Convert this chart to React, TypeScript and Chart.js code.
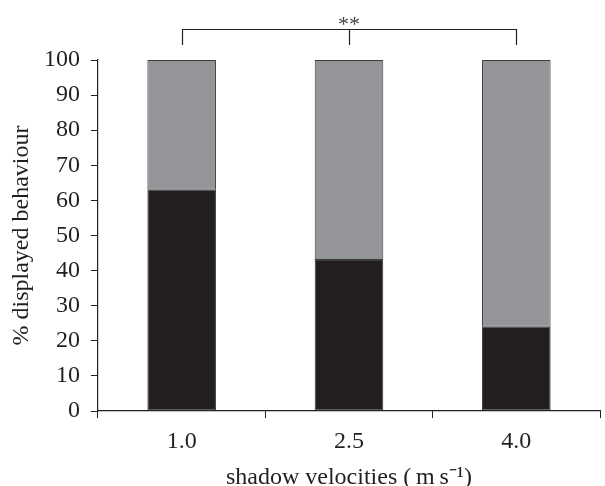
import React, { useEffect, useRef } from "react";
import { Chart, registerables } from "chart.js";

Chart.register(...registerables);

const categories = ["1.0", "2.5", "4.0"];
const blackValues = [63, 43, 24];
const grayValues = [37, 57, 76];
const yTicks = [0, 10, 20, 30, 40, 50, 60, 70, 80, 90, 100];
const significance = "**";

const FONT = "'Liberation Serif', 'Times New Roman', serif";
const INK = "#231f20";

const bracketPlugin = {
  id: "bracket",
  afterDraw(chart: any) {
    const ctx = chart.ctx;
    const x = chart.scales.x;
    const y = chart.scales.y;
    const x0 = x.getPixelForValue(0);
    const x1 = x.getPixelForValue(1);
    const x2 = x.getPixelForValue(2);
    const top = y.getPixelForValue(100);
    const yLine = Math.round(top - 31) + 0.5;
    const yEnd = top - 15;
    ctx.save();
    ctx.strokeStyle = INK;
    ctx.lineWidth = 1.2;
    ctx.beginPath();
    ctx.moveTo(Math.round(x0) + 0.5, yEnd);
    ctx.lineTo(Math.round(x0) + 0.5, yLine);
    ctx.lineTo(Math.round(x2) + 0.5, yLine);
    ctx.lineTo(Math.round(x2) + 0.5, yEnd);
    ctx.moveTo(Math.round(x1) + 0.5, yLine);
    ctx.lineTo(Math.round(x1) + 0.5, yEnd);
    ctx.stroke();
    ctx.fillStyle = "#444";
    ctx.font = `22px ${FONT}`;
    ctx.textAlign = "center";
    ctx.textBaseline = "alphabetic";
    ctx.fillText(significance, x1, yLine + 1);
    ctx.restore();
  },
};

export default function App() {
  const ref = useRef<HTMLCanvasElement>(null);
  useEffect(() => {
    if (!ref.current) return;
    const chart = new Chart(ref.current, {
      type: "bar",
      data: {
        labels: categories,
        datasets: [
          {
            label: "black",
            data: blackValues,
            backgroundColor: INK,
            borderColor: "#3c3c3c",
            borderWidth: 1,
            borderSkipped: false,
            barPercentage: 0.82,
            categoryPercentage: 0.5,
          },
          {
            label: "gray",
            data: grayValues,
            backgroundColor: "#939598",
            borderColor: "#3c3c3c",
            borderWidth: 1,
            borderSkipped: false,
            barPercentage: 0.82,
            categoryPercentage: 0.5,
          },
        ],
      },
      options: {
        animation: false,
        responsive: true,
        maintainAspectRatio: false,
        layout: { padding: { top: 60, right: 5, left: 10, bottom: -4 } },
        plugins: {
          legend: { display: false },
          tooltip: { enabled: false },
        },
        scales: {
          x: {
            stacked: true,
            offset: true,
            grid: {
              display: true,
              offset: true,
              drawOnChartArea: false,
              drawTicks: true,
              tickLength: 7,
              color: INK,
            },
            border: { display: true, color: INK, width: 1.2 },
            ticks: {
              color: INK,
              font: { family: FONT, size: 24, lineHeight: 1 },
              padding: 12,
            },
            title: {
              display: true,
              text: "shadow velocities (\u2009m\u2009s\u207B\u00B9)",
              color: INK,
              font: { family: FONT, size: 24, lineHeight: 1 },
              padding: { top: 0, bottom: 0 },
            },
          },
          y: {
            stacked: true,
            min: 0,
            max: 100,
            afterBuildTicks: (axis: any) => {
              axis.ticks = yTicks.map((v) => ({ value: v }));
            },
            grid: {
              display: true,
              drawOnChartArea: false,
              drawTicks: true,
              tickLength: 7,
              color: INK,
            },
            border: { display: true, color: INK, width: 1.2 },
            ticks: {
              color: INK,
              font: { family: FONT, size: 24, lineHeight: 1 },
              padding: 11,
            },
            title: {
              display: true,
              text: "% displayed behaviour",
              color: INK,
              font: { family: FONT, size: 24, lineHeight: 1 },
              padding: { top: 0, bottom: -1 },
            },
          },
        },
      },
      plugins: [bracketPlugin],
    });
    return () => chart.destroy();
  }, []);
  return (
    <div style={{ position: "absolute", left: 0, top: 0, width: 605, height: 486, background: "#fff" }}>
      <canvas ref={ref} />
    </div>
  );
}
